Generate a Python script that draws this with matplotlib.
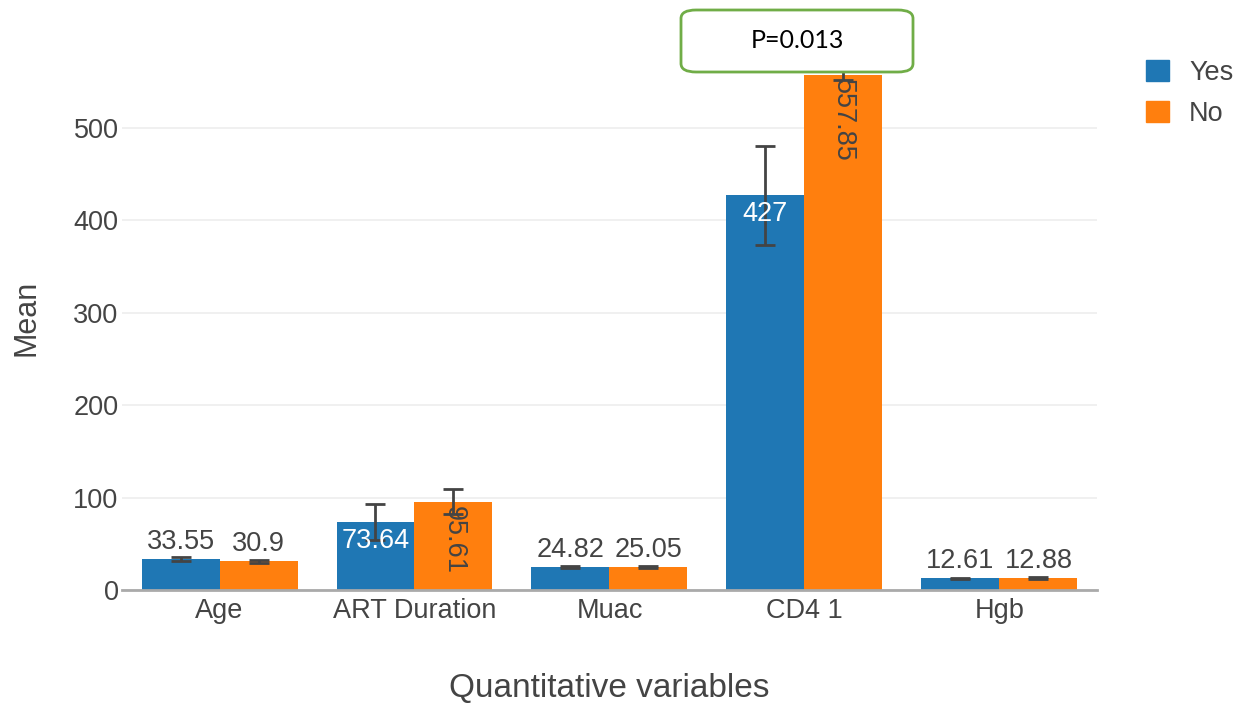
import numpy as np
import matplotlib.pyplot as plt
from matplotlib.patches import Patch, FancyBboxPatch

# Medias por variavel e grupo
categorias = ['Age', 'ART Duration', 'Muac', 'CD4 1', 'Hgb']
media_sim = [33.55, 73.64, 24.82, 427, 12.61]
media_nao = [30.9, 95.61, 25.05, 557.85, 12.88]
erro_sim = [2.2, 20, 1.2, 54, 0.8]
erro_nao = [1.5, 13.5, 1.0, 6, 0.8]
rotulo_sim = ['33.55', '73.64', '24.82', '427', '12.61']
rotulo_nao = ['30.9', '95.61', '25.05', '557.85', '12.88']
# posicao do texto de cada barra: fora, dentro, dentro girado
modo_sim = ['out', 'in', 'out', 'in', 'out']
modo_nao = ['out', 'rot', 'out', 'rot', 'out']
yticks = [0, 100, 200, 300, 400, 500]

azul = '#1f77b4'
laranja = '#ff7f0e'
cinza = '#444444'
plt.rcParams['font.family'] = ['Liberation Sans', 'DejaVu Sans']

fig = plt.figure(figsize=(12.53, 7.03), dpi=100)
ax = fig.add_axes([0.0974, 0.1607, 0.778, 0.7755])

x = np.arange(len(categorias))
w = 0.4
ax.bar(x - w / 2, media_sim, w, color=azul, zorder=2)
ax.bar(x + w / 2, media_nao, w, color=laranja, zorder=2)
ax.errorbar(x - w / 2, media_sim, yerr=erro_sim, fmt='none', ecolor=cinza,
            elinewidth=2, capsize=7, capthick=2, zorder=3)
ax.errorbar(x + w / 2, media_nao, yerr=erro_nao, fmt='none', ecolor=cinza,
            elinewidth=2, capsize=7, capthick=2, zorder=3)

fs = 19.5


def rotular(xs, vals, textos, modos, cor_dentro):
    for xi, v, t, m in zip(xs, vals, textos, modos):
        if m == 'out':
            ax.annotate(t, (xi, v), xytext=(0, 3), textcoords='offset points',
                        ha='center', va='bottom', fontsize=fs, color=cinza, zorder=4)
        elif m == 'in':
            ax.annotate(t, (xi, v), xytext=(0, -4), textcoords='offset points',
                        ha='center', va='top', fontsize=fs, color=cor_dentro, zorder=4)
        else:
            ax.annotate(t, (xi, v), xytext=(0, -3), textcoords='offset points',
                        ha='center', va='top', rotation=-90, fontsize=fs,
                        color=cor_dentro, zorder=4)


rotular(x - w / 2, media_sim, rotulo_sim, modo_sim, 'white')
rotular(x + w / 2, media_nao, rotulo_nao, modo_nao, cinza)

ax.set_xlim(-0.5, len(categorias) - 0.5)
ax.set_ylim(0, 590)
ax.set_yticks(yticks)
ax.set_xticks(x)
ax.set_xticklabels(categorias)
ax.tick_params(axis='both', length=0, labelsize=fs, colors=cinza)
ax.tick_params(axis='x', pad=6)
ax.tick_params(axis='y', pad=2.5)
ax.grid(axis='y', color='#eeeeee', linewidth=1.2, zorder=0)
ax.set_axisbelow(True)
for s in ['top', 'right', 'left']:
    ax.spines[s].set_visible(False)
ax.spines['bottom'].set_color('#aaaaaa')
ax.spines['bottom'].set_linewidth(2)
ax.spines['bottom'].set_zorder(5)

ax.set_ylabel('Mean', fontsize=22, color=cinza, labelpad=23)
# titulo do eixo x posto a mao, rente a borda de baixo
fig.text(0.486, 1 - 697 / 703, 'Quantitative variables', ha='center', va='baseline',
         fontsize=24, color=cinza)

# legenda
fig.legend(handles=[Patch(color=azul, label='Yes'), Patch(color=laranja, label='No')],
           loc='upper left', bbox_to_anchor=(0.895, 0.95), frameon=False,
           fontsize=fs, handlelength=0.85, handleheight=0.85, handletextpad=0.75,
           labelspacing=0.55, labelcolor=cinza)

# caixa do p-valor
caixa = FancyBboxPatch((681 / 1253, 1 - 72 / 703), 232 / 1253, 62 / 703,
                       boxstyle='round,pad=0,rounding_size=0.012',
                       transform=fig.transFigure, facecolor='white',
                       edgecolor='#70ad47', linewidth=2, zorder=10)
fig.patches.append(caixa)
fig.text(797 / 1253, 1 - 41 / 703, 'P=0.013', ha='center', va='center',
         fontsize=18, family=['Lato', 'DejaVu Sans'], color='black', zorder=11)

fig.savefig('out.png', dpi=100)
